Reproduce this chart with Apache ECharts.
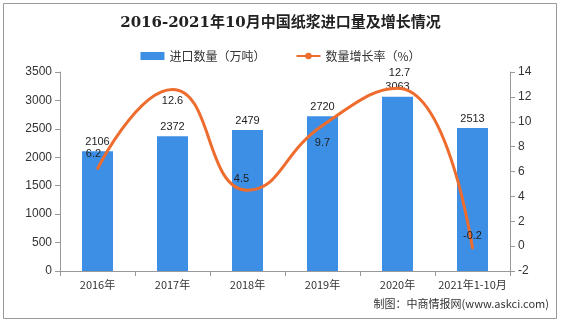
<!DOCTYPE html>
<html><head><meta charset="utf-8">
<script src="https://cdn.jsdelivr.net/npm/echarts@6/dist/echarts.min.js"></script>
<style>html,body{margin:0;padding:0;background:#fff}#c{width:561px;height:323px}</style>
</head><body><div id="c"></div>
<script>
const categories = ['2016年','2017年','2018年','2019年','2020年','2021年1-10月'];
const importVolume = [2106, 2372, 2479, 2720, 3063, 2513];
const growthRate = [6.2, 12.6, 4.5, 9.7, 12.7, -0.2];
const leftTicks = {min: 0, max: 3500, interval: 500};
const rightTicks = {min: -2, max: 14, interval: 2};
const labelOffsets = [[-4,-15],[0,12],[-6,-11],[0,17],[2,-15],[0,-13]];

const chart = echarts.init(document.getElementById('c'), null, {renderer:'canvas'});
const axisFont = {fontFamily:'Liberation Sans, Arial, sans-serif', fontSize:12, color:'#333', formatter:(v)=>String(v)};
chart.setOption({
  animation:false,
  title:{text:'2016-2021年10月中国纸浆进口量及增长情况', left:'center', top:11,
    textStyle:{fontFamily:'DejaVu Serif, Noto Sans CJK SC, serif', fontWeight:'bold', fontSize:15, color:'#222'}},
  legend:{top:45, left:'center', itemGap:30, itemWidth:24, itemHeight:8,
    textStyle:{fontFamily:'Noto Sans CJK SC, sans-serif', fontSize:12, color:'#333'},
    data:[{name:'进口数量（万吨）', icon:'rect'},{name:'数量增长率（%）'}]},
  grid:{left:60, right:51, top:72, bottom:52, containLabel:false},
  xAxis:{type:'category', data:categories,
    axisLine:{lineStyle:{color:'#999'}}, axisTick:{show:true, alignWithLabel:false, lineStyle:{color:'#999'}},
    axisLabel:{fontFamily:'Noto Sans CJK SC, sans-serif', fontSize:11, color:'#333', margin:8, interval:0}},
  yAxis:[
    {type:'value', min:leftTicks.min, max:leftTicks.max, interval:leftTicks.interval,
      axisLine:{show:true, lineStyle:{color:'#999'}}, axisTick:{show:true, lineStyle:{color:'#999'}},
      splitLine:{show:false}, axisLabel:axisFont},
    {type:'value', min:rightTicks.min, max:rightTicks.max, interval:rightTicks.interval,
      axisLine:{show:true, lineStyle:{color:'#999'}}, axisTick:{show:true, lineStyle:{color:'#999'}},
      splitLine:{show:false}, axisLabel:axisFont}
  ],
  series:[
    {name:'进口数量（万吨）', type:'bar', data:importVolume, barWidth:31,
      itemStyle:{color:'#3D8FE6'},
      label:{show:true, position:'top', fontFamily:'Liberation Sans, Arial, sans-serif', fontSize:11, color:'#222', distance:4}},
    {name:'数量增长率（%）', type:'line', yAxisIndex:1, smooth:0.5,
      data:growthRate.map((v,i)=>({value:v, label:{offset:labelOffsets[i]}})),
      symbol:'circle', symbolSize:2, showSymbol:true,
      lineStyle:{color:'#EE6C2D', width:3}, itemStyle:{color:'#EE6C2D'},
      label:{show:true, position:'inside', fontFamily:'Liberation Sans, Arial, sans-serif', fontSize:11, color:'#222'}}
  ],
  graphic:[
    {type:'rect', shape:{x:3.5, y:3.5, width:553, height:315}, style:{fill:null, stroke:'#999', lineWidth:1}, silent:true},
    {type:'text', right:12, top:298, style:{text:'制图：中商情报网(www.askci.com)', font:'11px Noto Sans CJK SC, sans-serif', fill:'#333'}}
  ]
});
</script></body></html>
